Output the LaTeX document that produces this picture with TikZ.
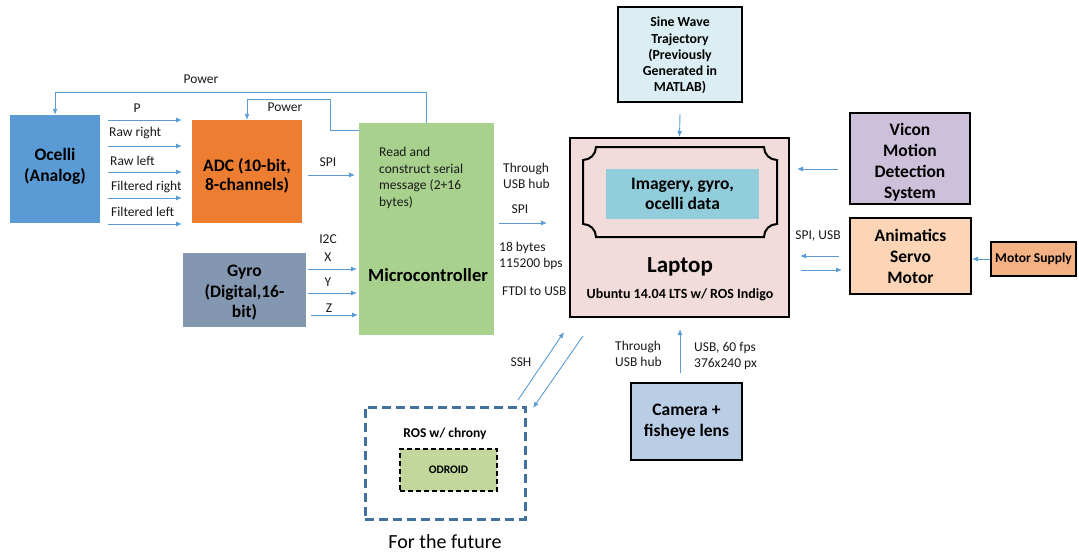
\documentclass[tikz,border=0pt]{standalone}
\usepackage{fontspec}
\setmainfont{Carlito}
\usetikzlibrary{arrows.meta,calc}

\definecolor{lblue}{HTML}{5B9BD5}
\definecolor{ocellifill}{HTML}{5B9BD5}
\definecolor{adcfill}{HTML}{ED7D31}
\definecolor{gyrofill}{HTML}{8497B0}
\definecolor{mcfill}{HTML}{A9D18E}
\definecolor{lapfill}{HTML}{F2DCDB}
\definecolor{imgfill}{HTML}{92CDDC}
\definecolor{sinefill}{HTML}{DAEEF3}
\definecolor{viconfill}{HTML}{CCC0DA}
\definecolor{anifill}{HTML}{FBD5B5}
\definecolor{msfill}{HTML}{F4B183}
\definecolor{camfill}{HTML}{B9CDE5}
\definecolor{rosline}{HTML}{41719C}
\definecolor{odfill}{HTML}{C3D69B}

\begin{document}
\begin{tikzpicture}[x=1pt,y=-1pt,
  arr/.style={draw=lblue, line width=0.9pt, -{Latex[length=6pt,width=5pt]}},
  flat/.style={rectangle, inner sep=0pt, align=center, text=black},
  framed/.style={flat, draw=black, line width=2pt},
  title/.style={font=\fontsize{17.5}{21}\selectfont\bfseries},
  txt/.style={inner sep=0pt, align=center, text=black},
  small/.style={font=\fontsize{13.5}{16.5}\selectfont\bfseries},
  lbl/.style={inner sep=0pt, font=\fontsize{13.5}{16.5}\selectfont, text=black!90},
  lblw/.style={lbl, anchor=west, align=left}
]
\useasboundingbox (0,0) rectangle (1079,554);

% ---------------- blocks ----------------
\node[flat, fill=ocellifill, minimum width=90pt, minimum height=108pt] (oc) at (55,169) {};
\node[txt, title] (octxt) at (55,166.5) {Ocelli\\(Analog)};
\node[flat, fill=adcfill, minimum width=110pt, minimum height=103pt] (adc) at (247,171.5) {};
\node[txt, font=\fontsize{17.5}{19}\selectfont\bfseries] (adctxt) at (247,176) {ADC (10-bit,\\8-channels)};
\node[flat, fill=gyrofill, minimum width=123pt, minimum height=74pt] (gyro) at (244.5,290) {};
\node[txt, title, font=\fontsize{17.5}{20.5}\selectfont\bfseries] (gyrotxt) at (244.5,293) {Gyro\\(Digital,16-\\bit)};
\node[flat, fill=mcfill, minimum width=135pt, minimum height=212pt] (mc) at (426.5,229) {};
\node[lblw] (mcread) at (379,178) {Read and\\construct serial\\message (2+16\\bytes)};
\node[inner sep=0pt, font=\fontsize{18.5}{22}\selectfont\bfseries] (mctitle) at (428,275) {Microcontroller};

\node[framed, fill=lapfill, minimum width=219pt, minimum height=179pt] (lap) at (679.5,227.5) {};
% plaque frame with concave corners
\draw[line width=2pt, black]
  (596,147) -- (764,147) .. controls (764,154.2) and (769.8,160) .. (777,160)
  -- (777,224) .. controls (769.8,224) and (764,229.8) .. (764,237)
  -- (596,237) .. controls (596,229.8) and (590.2,224) .. (583,224)
  -- (583,160) .. controls (590.2,160) and (596,154.2) .. (596,147) -- cycle;
\node[flat, fill=imgfill, minimum width=153pt, minimum height=50pt, font=\fontsize{17.5}{20}\selectfont\bfseries] (img) at (682.5,194) {Imagery, gyro,\\ocelli data};
\node[inner sep=0pt, font=\fontsize{23}{26}\selectfont\bfseries] (laptitle) at (680,267) {Laptop};
\node[inner sep=0pt, font=\fontsize{14}{16}\selectfont\bfseries] (lapos) at (680,295) {Ubuntu 14.04 LTS w/ ROS Indigo};

\node[framed, line width=1.8pt, fill=sinefill, minimum width=124pt, minimum height=95pt] (sine) at (680,54.5) {};
\node[txt, font=\fontsize{13.8}{16.2}\selectfont\bfseries] (sinetxt) at (680,55.5) {Sine Wave\\Trajectory\\(Previously\\Generated in\\MATLAB)};
\node[framed, fill=viconfill, minimum width=120pt, minimum height=91pt] (vic) at (910,158.5) {};
\node[txt, title] (victxt) at (910,162.5) {Vicon\\Motion\\Detection\\System};
\node[framed, fill=anifill, minimum width=121pt, minimum height=76pt, title] (ani) at (910.5,256) {Animatics\\Servo\\Motor};
\node[framed, line width=1.6pt, fill=msfill, minimum width=85pt, minimum height=34pt, font=\fontsize{13.5}{16}\selectfont\bfseries] (ms) at (1033.5,259) {Motor Supply};
\node[framed, fill=camfill, minimum width=111pt, minimum height=77pt, title] (cam) at (686.5,421.5) {Camera +\\fisheye lens};

\node[flat, draw=rosline, line width=3pt, dash pattern=on 9pt off 5pt, minimum width=160pt, minimum height=112pt] (ros) at (445,463) {};
\node[inner sep=0pt, small] (rostitle) at (445,434) {ROS w/ chrony};
\node[flat, draw=black, fill=odfill, line width=1.6pt, dash pattern=on 5pt off 3pt, minimum width=97pt, minimum height=42pt, font=\fontsize{11.5}{13}\selectfont\bfseries] (od) at (448.5,470) {ODROID};
\node[inner sep=0pt, font=\fontsize{20}{24}\selectfont] (future) at (445,542) {For the future};

% ---------------- power lines ----------------
\draw[arr] (mc.north) -- ++(0,-30) -| (oc.north);
\node[lbl] (pwr1) at (201,79) {Power};
\coordinate (pw2a) at ($(mc.north west)+(0,8)$);
\coordinate (pw2b) at (330,99);
\draw[arr] (pw2a) -| (pw2b) -| (adc.north);
\node[lbl] (pwr2) at (285,107) {Power};

% ---------------- ocelli -> ADC ----------------
\foreach \yy/\nm in {120/p,146/rr,172/rl,198/fr,224/fl}{
  \coordinate (os\nm) at (108,\yy);
  \coordinate (oe\nm) at (182,\yy);
  \draw[arr] (os\nm) -- (oe\nm);
}
\node[lbl] (lp) at (137,108) {P};
\node[lblw] (lrr) at (109,133) {Raw right};
\node[lblw] (lrl) at (110,161) {Raw left};
\node[lblw] (lfr) at (111,187) {Filtered right};
\node[lblw] (lfl) at (111,212) {Filtered left};

% ---------------- ADC -> microcontroller ----------------
\coordinate (spis) at (308,175);
\coordinate (spie) at (355,175);
\draw[arr] (spis) -- (spie);
\node[lbl] (lspi) at (328,162) {SPI};

% ---------------- gyro -> microcontroller ----------------
\coordinate (gxs) at (308,269); \coordinate (gxe) at (357,269);
\coordinate (gys) at (308,293); \coordinate (gye) at (357,293);
\coordinate (gzs) at (311,315); \coordinate (gze) at (358,315);
\draw[arr] (gxs) -- (gxe);
\draw[arr] (gys) -- (gye);
\draw[arr] (gzs) -- (gze);
\node[lbl] (li2c) at (328,239) {I2C};
\node[lbl] (lx) at (328,257) {X};
\node[lbl] (ly) at (328,282) {Y};
\node[lbl] (lz) at (329,308) {Z};

% ---------------- microcontroller -> laptop ----------------
\coordinate (mls) at (499,223);
\coordinate (mle) at (547,223);
\draw[arr] (mls) -- (mle);
\node[lblw] (lhub1) at (503,176) {Through\\USB hub};
\node[lbl] (lspi2) at (520,209) {SPI};
\node[lblw] (lbytes) at (499,256) {18 bytes\\115200 bps};
\node[lblw] (lftdi) at (502,291) {FTDI to USB};

% ---------------- trajectory, vicon, servo ----------------
\draw[arr] ([yshift=-11pt]sine.south) -- (lap.north);
\coordinate (vs) at (838,169);
\coordinate (ve) at (797,169);
\draw[arr] (vs) -- (ve);
\coordinate (a1s) at (839,256); \coordinate (a1e) at (800,256);
\coordinate (a2s) at (801,270); \coordinate (a2e) at (842,270);
\draw[arr] (a1s) -- (a1e);
\draw[arr] (a2s) -- (a2e);
\node[lbl] (lspiusb) at (818,236) {SPI, USB};
\draw[arr] (ms.west) -- (ani.east |- ms.west);

% ---------------- camera ----------------
\coordinate (cs) at (680,373);
\coordinate (ce) at (680,329);
\draw[arr] (cs) -- (ce);
\node[lblw] (lhub2) at (615,354) {Through\\USB hub};
\node[lblw] (lusb) at (694,356) {USB, 60 fps\\376x240 px};

% ---------------- SSH ----------------
\coordinate (s1s) at (518,400); \coordinate (s1e) at (564,332);
\coordinate (s2s) at (583,336); \coordinate (s2e) at (533,408);
\draw[arr] (s1s) -- (s1e);
\draw[arr] (s2s) -- (s2e);
\node[lbl] (lssh) at (521,362) {SSH};
\end{tikzpicture}
\end{document}
